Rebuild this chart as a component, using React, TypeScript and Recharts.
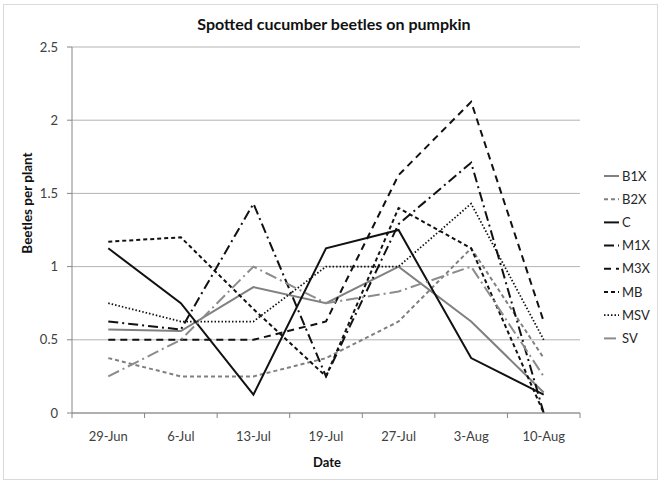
import { CartesianGrid, Line, LineChart, XAxis, YAxis } from "recharts";

const dates = ["29-Jun", "6-Jul", "13-Jul", "19-Jul", "27-Jul", "3-Aug", "10-Aug"];

const b1x = [0.57, 0.56, 0.86, 0.75, 1.0, 0.625, 0.14];
const b2x = [0.375, 0.25, 0.25, 0.375, 0.625, 1.125, 0.375];
const c = [1.125, 0.75, 0.125, 1.125, 1.25, 0.375, 0.125];
const m1x = [0.625, 0.57, 1.43, 0.25, 1.29, 1.71, 0];
const m3x = [0.5, 0.5, 0.5, 0.625, 1.625, 2.125, 0.625];
const mb = [1.17, 1.2, 0.71, 0.25, 1.4, 1.125, 0];
const msv = [0.75, 0.625, 0.625, 1.0, 1.0, 1.43, 0.5];
const sv = [0.25, 0.5, 1.0, 0.75, 0.83, 1.0, 0.25];

const yTicks = [0, 0.5, 1, 1.5, 2, 2.5];

const series = [
  { key: "B1X", values: b1x, color: "#808080", dash: undefined, width: 2 },
  { key: "B2X", values: b2x, color: "#808080", dash: "4 3", width: 2 },
  { key: "C", values: c, color: "#111111", dash: undefined, width: 2 },
  { key: "M1X", values: m1x, color: "#111111", dash: "10 4 2 4", width: 2 },
  { key: "M3X", values: m3x, color: "#111111", dash: "7 5", width: 2 },
  { key: "MB", values: mb, color: "#111111", dash: "4 3", width: 2 },
  { key: "MSV", values: msv, color: "#111111", dash: "1.5 2", width: 1.75 },
  { key: "SV", values: sv, color: "#8c8c8c", dash: "12 4 2 4", width: 2 },
];

const data = dates.map((date, i) => {
  const row: Record<string, string | number> = { date };
  series.forEach((s) => {
    row[s.key] = s.values[i];
  });
  return row;
});

const W = 666;
const H = 487;
const margin = { top: 47, right: 86, bottom: 44, left: 32 };
const yAxisWidth = 40;
const plotWidth = W - margin.left - margin.right - yAxisWidth;
const step = plotWidth / dates.length;
const font = "Lato, 'Open Sans', sans-serif";
const axisGray = "#868686";

function DateTick(props: any) {
  const { x, y, payload, index } = props;
  const top = y - 19;
  return (
    <g>
      <line x1={x - step / 2} x2={x - step / 2} y1={top} y2={top + 5} stroke={axisGray} />
      {index === dates.length - 1 && (
        <line x1={x + step / 2} x2={x + step / 2} y1={top} y2={top + 5} stroke={axisGray} />
      )}
      <text x={x} y={y} dy="0.71em" textAnchor="middle" fontSize={13} fill="#404040" fontFamily={font}>
        {payload.value}
      </text>
    </g>
  );
}

export default function App() {
  return (
    <div style={{ position: "absolute", left: 0, top: 0, width: W, height: H, background: "#fff", fontFamily: font }}>
      <div
        style={{
          position: "absolute",
          left: 3,
          top: 4,
          width: 655,
          height: 476,
          border: "1px solid #d9d9d9",
          boxSizing: "border-box",
        }}
      />
      <LineChart width={W} height={H} data={data} margin={margin}>
        <CartesianGrid vertical={false} stroke="#b3b3b3" />
        <XAxis
          dataKey="date"
          interval={0}
          padding={{ left: step / 2, right: step / 2 }}
          height={30}
          tickLine={false}
          tickSize={5}
          tickMargin={14}
          stroke={axisGray}
          tick={<DateTick />}
        />
        <YAxis
          domain={[0, 2.5]}
          ticks={yTicks}
          width={yAxisWidth}
          stroke={axisGray}
          tickSize={5}
          tickMargin={9}
          tick={{ fill: "#404040", fontSize: 13, fontFamily: font }}
        />
        {series.map((s) => (
          <Line
            key={s.key}
            type="linear"
            dataKey={s.key}
            stroke={s.color}
            strokeWidth={s.width}
            strokeDasharray={s.dash}
            dot={false}
            activeDot={false}
            isAnimationActive={false}
          />
        ))}
      </LineChart>
      <div
        style={{
          position: "absolute",
          left: 334,
          top: 23,
          transform: "translate(-50%, -50%)",
          fontSize: 16,
          fontWeight: 700,
          color: "#111",
          whiteSpace: "nowrap",
        }}
      >
        Spotted cucumber beetles on pumpkin
      </div>
      <div
        style={{
          position: "absolute",
          left: 27,
          top: 203,
          transform: "translate(-50%, -50%) rotate(-90deg)",
          fontSize: 13.5,
          fontWeight: 700,
          color: "#111",
          whiteSpace: "nowrap",
        }}
      >
        Beetles per plant
      </div>
      <div
        style={{
          position: "absolute",
          left: 327,
          top: 462,
          transform: "translate(-50%, -50%)",
          fontSize: 13,
          fontWeight: 700,
          color: "#111",
          whiteSpace: "nowrap",
        }}
      >
        Date
      </div>
      <svg style={{ position: "absolute", left: 0, top: 0 }} width={W} height={H} pointerEvents="none">
        {series.map((s, i) => {
          const y = 176 + i * 23.2;
          return (
            <g key={s.key}>
              <line x1={604} x2={619} y1={y} y2={y} stroke={s.color} strokeWidth={s.width} strokeDasharray={s.dash} />
              <text x={622} y={y} dy="0.35em" fontSize={13} fill="#262626" fontFamily={font}>
                {s.key}
              </text>
            </g>
          );
        })}
      </svg>
    </div>
  );
}
